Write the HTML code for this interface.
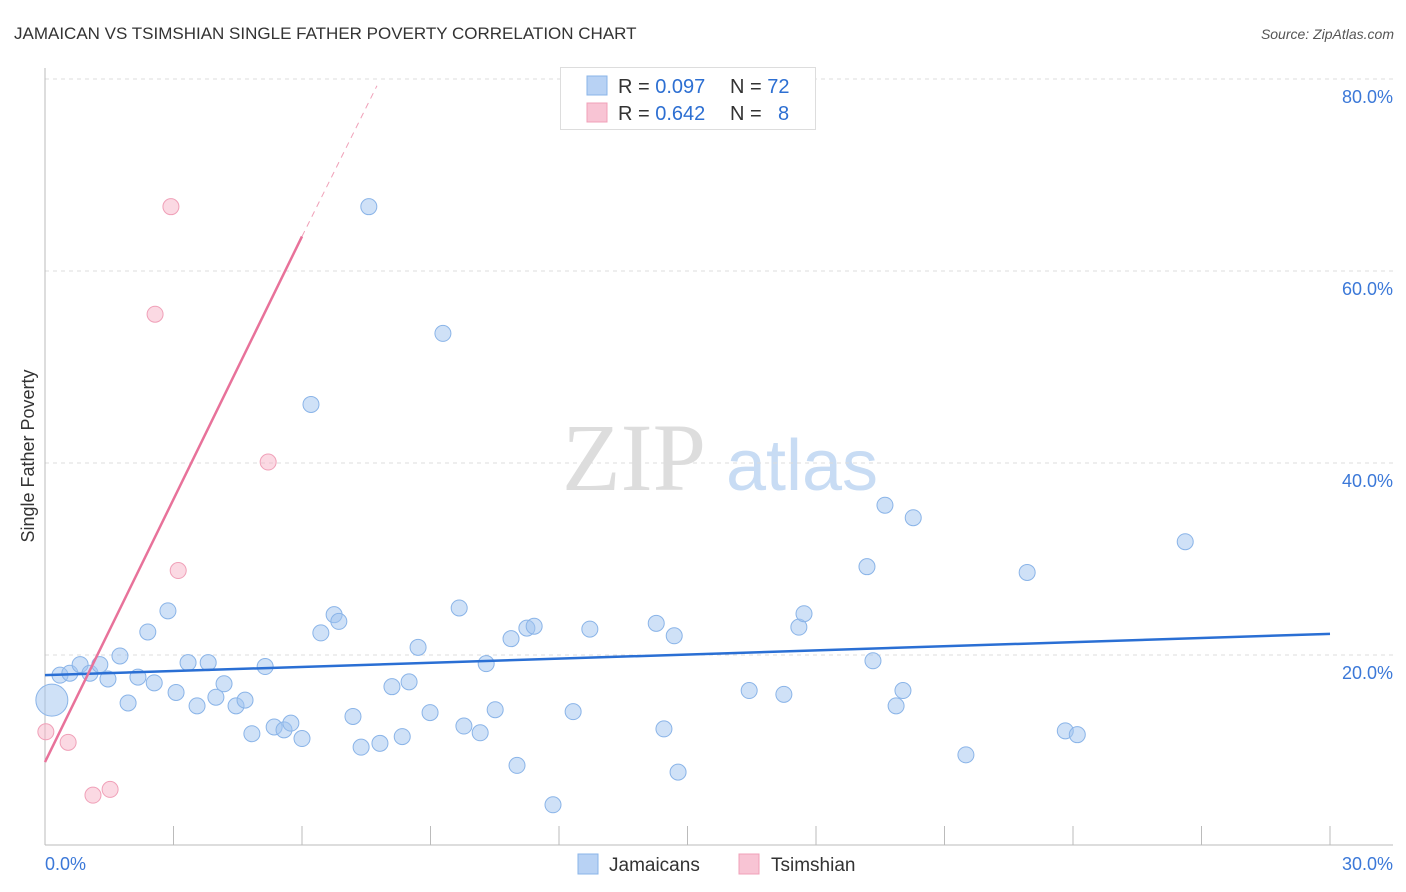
<!DOCTYPE html>
<html><head><meta charset="utf-8"><style>
body{margin:0;background:#fff;font-family:"Liberation Sans",sans-serif;}
svg{display:block}
</style></head><body>
<svg id="chart" width="1406" height="892">
<text x="14" y="39" font-size="17" fill="#333">JAMAICAN VS TSIMSHIAN SINGLE FATHER POVERTY CORRELATION CHART</text>
<text x="1394" y="39" font-size="14" fill="#555" font-style="italic" text-anchor="end">Source: ZipAtlas.com</text>
<g>
<text x="634" y="490" font-size="96" fill="#ddd" text-anchor="middle" font-family="Liberation Serif,serif">ZIP</text>
<text x="802" y="490" font-size="72" fill="#c8dcf4" text-anchor="middle">atlas</text>
</g>
<g id="grid"></g>
<g id="axes"></g>
<g id="marks"></g>
<text transform="translate(34,456) rotate(-90)" font-size="18" fill="#333" text-anchor="middle">Single Father Poverty</text>
<g>
<rect x="560.5" y="67.5" width="255" height="62" fill="#fff" stroke="#ddd"/>
<rect x="587" y="76" width="20" height="19" fill="#b8d2f4" stroke="#8ab4e8"/>
<rect x="587" y="103" width="20" height="19" fill="#f8c4d4" stroke="#f0a0b8"/>
<text x="618" y="93" font-size="20" fill="#333">R = <tspan fill="#2d6fd2">0.097</tspan></text>
<text x="730" y="93" font-size="20" fill="#333">N = <tspan fill="#2d6fd2">72</tspan></text>
<text x="618" y="120" font-size="20" fill="#333">R = <tspan fill="#2d6fd2">0.642</tspan></text>
<text x="730" y="120" font-size="20" fill="#333">N = <tspan fill="#2d6fd2" x="778">8</tspan></text>
</g>
<g>
<rect x="578" y="854" width="20" height="20" fill="#b8d2f4" stroke="#8ab4e8"/>
<text x="609" y="871" font-size="19" fill="#333">Jamaicans</text>
<rect x="739" y="854" width="20" height="20" fill="#f8c4d4" stroke="#f0a0b8"/>
<text x="771" y="871" font-size="19" fill="#333">Tsimshian</text>
</g>
</svg>
<script>
const yTicks=[20,40,60,80];
const yTickLabels=["20.0%","40.0%","60.0%","80.0%"];
const xTicks=[0,3,6,9,12,15,18,21,24,27,30];
const jamX=[0.16,0.35,0.58,0.82,1.05,1.28,1.47,1.75,1.94,2.17,2.40,2.55,2.87,3.06,3.34,3.55,3.81,3.99,4.18,4.46,4.67,4.83,5.14,5.35,5.58,5.74,6.00,6.21,6.44,6.75,6.86,7.19,7.38,7.56,7.82,8.10,8.34,8.50,8.71,8.99,9.29,9.67,9.78,10.16,10.30,10.51,10.88,11.02,11.25,11.42,11.86,12.33,12.72,14.27,14.45,14.69,14.78,16.44,17.25,17.60,17.72,19.19,19.33,19.61,19.87,20.03,20.27,21.50,22.93,23.82,24.10,26.62];
const jamY=[15.3,17.9,18.1,19.0,18.1,19.0,17.5,19.9,15.0,17.7,22.4,17.1,24.6,16.1,19.2,14.7,19.2,15.6,17.0,14.7,15.3,11.8,18.8,12.5,12.2,12.9,11.3,46.1,22.3,24.2,23.5,13.6,10.4,66.7,10.8,16.7,11.5,17.2,20.8,14.0,53.5,24.9,12.6,11.9,19.1,14.3,21.7,8.5,22.8,23.0,4.4,14.1,22.7,23.3,12.3,22.0,7.8,16.3,15.9,22.9,24.3,29.2,19.4,35.6,14.7,16.3,34.3,9.6,28.6,12.1,11.7,31.8];
const tsiX=[0.02,0.54,1.12,1.52,2.57,2.94,3.11,5.21];
const tsiY=[12.0,10.9,5.4,6.0,55.5,66.7,28.8,40.1];
const jamTrend=[17.9,22.2];
const tsiTrend=[8.85,63.6,79.3];
const tsiTrendX=[0,6.0,7.75];

const NS="http://www.w3.org/2000/svg";
const X=v=>45+v*(1285/30);
const Y=v=>847-v*9.6;
function mk(tag,attrs,parent){const e=document.createElementNS(NS,tag);for(const k in attrs)e.setAttribute(k,attrs[k]);parent.appendChild(e);return e;}
const gridG=document.getElementById('grid'),axesG=document.getElementById('axes'),marksG=document.getElementById('marks');
yTicks.forEach((t,i)=>{
  const l=mk('line',{x1:45,x2:1393,y1:Y(t),y2:Y(t),stroke:'#ddd','stroke-dasharray':'4,4'},gridG);
  
  
  const tx=mk('text',{x:1393,y:Y(t)+24,'font-size':18,fill:'#3b78d8','text-anchor':'end'},axesG);
  tx.textContent=yTickLabels[i];
  
  
});
mk('line',{x1:45,x2:45,y1:68,y2:845,stroke:'#bbb'},axesG);
mk('line',{x1:45,x2:1393,y1:845,y2:845,stroke:'#bbb'},axesG);
xTicks.forEach(t=>{
  const l=mk('line',{x1:X(t),x2:X(t),y1:826,y2:845,stroke:'#bbb'},axesG);
  
  
});
const xl0=mk('text',{x:45,y:870,'font-size':18,fill:'#3b78d8'},axesG);xl0.textContent=xTicks[0].toFixed(1)+'%';


const xl1=mk('text',{x:1393,y:870,'font-size':18,fill:'#3b78d8','text-anchor':'end'},axesG);xl1.textContent=xTicks[xTicks.length-1].toFixed(1)+'%';



jamX.forEach((v,i)=>{
  const c=mk('circle',{cx:X(v),cy:Y(jamY[i]),r:i===0?16:8,fill:'rgba(160,196,240,0.5)',stroke:'#8ab4e8','stroke-width':1},marksG);
  
  
});
tsiX.forEach((v,i)=>{
  const c=mk('circle',{cx:X(v),cy:Y(tsiY[i]),r:8,fill:'rgba(248,180,200,0.5)',stroke:'#f0a0b8','stroke-width':1},marksG);
  
  
});
const jl=mk('line',{x1:X(0),y1:Y(jamTrend[0]),x2:X(30),y2:Y(jamTrend[1]),stroke:'#2a6fd4','stroke-width':2.5},marksG);


const tl=mk('line',{x1:X(tsiTrendX[0]),y1:Y(tsiTrend[0]),x2:X(tsiTrendX[1]),y2:Y(tsiTrend[1]),stroke:'#e8729a','stroke-width':2.5},marksG);


const td=mk('line',{x1:X(tsiTrendX[1]),y1:Y(tsiTrend[1]),x2:X(tsiTrendX[2]),y2:Y(tsiTrend[2]),stroke:'#f0a0b8','stroke-width':1,'stroke-dasharray':'6,5'},marksG);


</script>
</body></html>
